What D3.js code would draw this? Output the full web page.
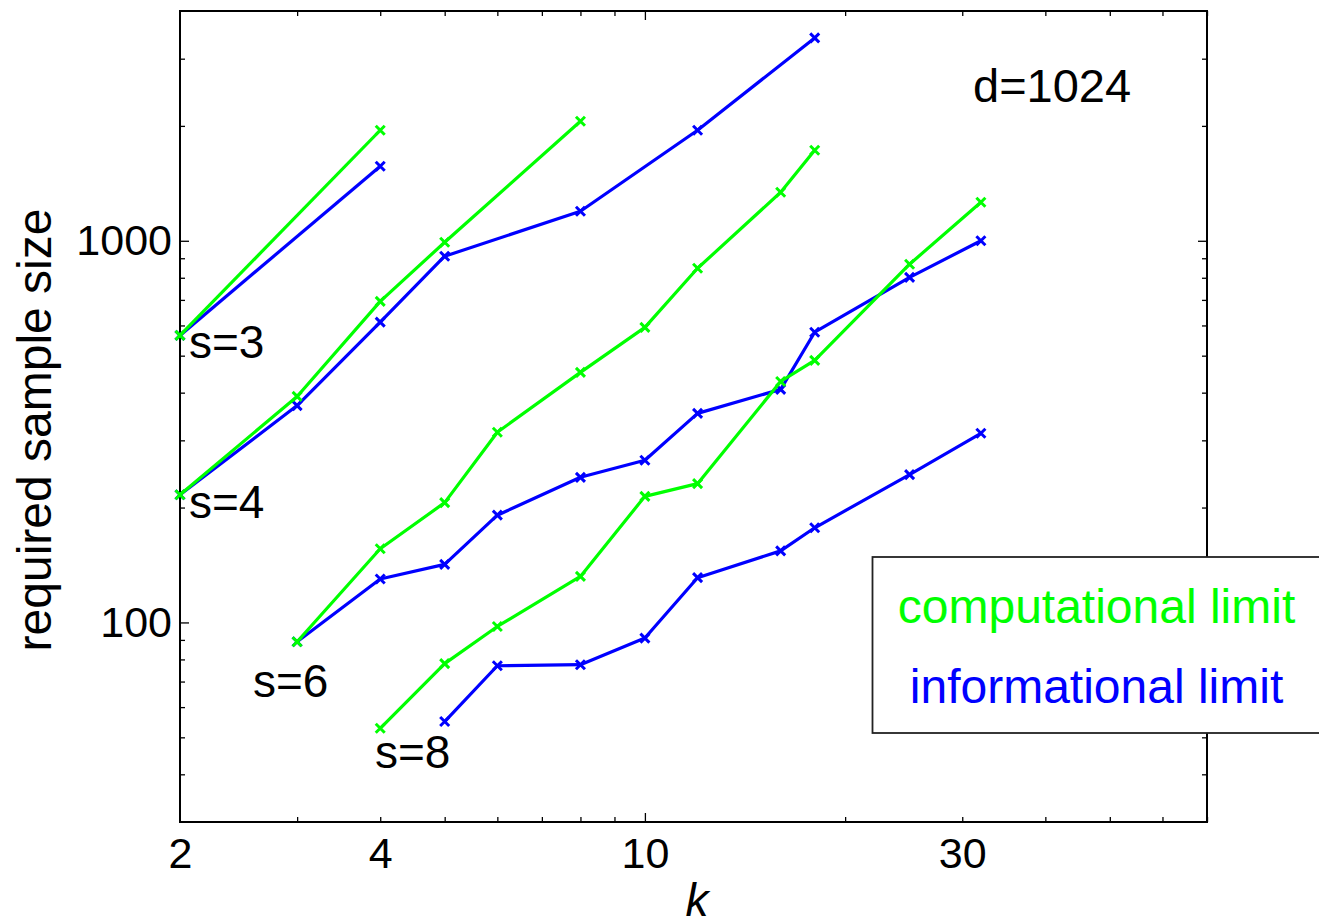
<!DOCTYPE html>
<html>
<head>
<meta charset="utf-8">
<script src="https://cdn.jsdelivr.net/npm/d3@7"></script>
<style>
  html, body { margin: 0; padding: 0; background: #fff; }
  svg { display: block; }
  text { font-family: "Liberation Sans", Arial, Helvetica, sans-serif; }
</style>
</head>
<body>
<svg id="chart" width="1319" height="924"></svg>
<script>
// ---------------- data ----------------
const s3K = [2, 4];
const s3Comp = [565, 1948];
const s3Info = [565, 1568];

const s4KComp = [2, 3, 4, 5, 8];
const s4Comp = [216, 391, 694, 991, 2057];
const s4KInfo = [2, 3, 4, 5, 8, 12, 18];
const s4Info = [216, 370, 612, 911, 1195, 1948, 3401];

const s6KComp = [3, 4, 5, 6, 8, 10, 12, 16, 18];
const s6Comp = [89, 156, 206, 315, 452, 593, 847, 1340, 1727];
const s6KInfo = [3, 4, 5, 6, 8, 10, 12, 16, 18, 25, 32];
const s6Info = [89, 130, 142, 191, 240, 266, 353, 408, 576, 802, 1000];

const s8KComp = [4, 5, 6, 8, 10, 12, 16, 18, 25, 32];
const s8Comp = [52.8, 78, 97.6, 132, 214, 231, 428, 486, 868, 1262];
const s8KInfo = [5, 6, 8, 10, 12, 16, 18, 25, 32];
const s8Info = [55, 77, 77.5, 91, 131, 154, 177, 244, 313];

const xTickLabels = [2, 4, 10, 30];
const yTickLabels = [100, 1000];
const xMajor = [10];
const yMajor = [100, 1000];
const xMinor = [3, 4, 5, 6, 7, 8, 9, 20, 30, 40, 50, 60, 70];
const yMinor = [40, 50, 60, 70, 80, 90, 200, 300, 400, 500, 600, 700, 800, 900, 2000, 3000];

const seriesLabels = ["s=3", "s=4", "s=6", "s=8"];
const legendLabels = ["computational limit", "informational limit"];
const annotation = "d=1024";
const xTitle = "k";
const yTitle = "required sample size";

// ---------------- layout ----------------
const L = 180, R = 1207, T = 11, B = 822;
const GREEN = "#00ff00", BLUE = "#0000ff";

const svg = d3.select("#chart");
const x = d3.scaleLog().domain([2, 70]).range([L, R]);
const y = d3.scaleLog().domain([30, 4000]).range([B, T]);

const zip = (ks, vs) => ks.map((k, i) => ({k, v: vs[i]}));
const infoSeries = [zip(s3K, s3Info), zip(s4KInfo, s4Info), zip(s6KInfo, s6Info), zip(s8KInfo, s8Info)];
const compSeries = [zip(s3K, s3Comp), zip(s4KComp, s4Comp), zip(s6KComp, s6Comp), zip(s8KComp, s8Comp)];

// ---------------- ticks (inward, all four sides) ----------------
function tickAxis(axisFn, scale, values, size, transform) {
  const g = svg.append("g").attr("transform", transform)
    .call(axisFn(scale).tickValues(values).tickSize(-size).tickFormat(""));
  g.select(".domain").remove();
  g.selectAll("line").attr("stroke", "#000").attr("stroke-width", 1.3);
  return g;
}
tickAxis(d3.axisBottom, x, xMinor, 5, `translate(0,${B})`);
tickAxis(d3.axisBottom, x, xMajor, 9, `translate(0,${B})`);
tickAxis(d3.axisTop, x, xMinor, 5, `translate(0,${T})`);
tickAxis(d3.axisTop, x, xMajor, 9, `translate(0,${T})`);
tickAxis(d3.axisLeft, y, yMinor, 5, `translate(${L},0)`);
tickAxis(d3.axisLeft, y, yMajor, 9, `translate(${L},0)`);
tickAxis(d3.axisRight, y, yMinor, 5, `translate(${R},0)`);
tickAxis(d3.axisRight, y, yMajor, 9, `translate(${R},0)`);

// tick labels
const gxl = svg.append("g").attr("transform", `translate(0,${B})`)
  .call(d3.axisBottom(x).tickValues(xTickLabels).tickSize(0).tickPadding(15).tickFormat(d3.format("d")));
gxl.select(".domain").remove();
gxl.selectAll("text").attr("font-size", 43).attr("fill", "#000")
  .style("font-family", '"Liberation Sans", Arial, sans-serif');

const gyl = svg.append("g").attr("transform", `translate(${L},0)`)
  .call(d3.axisLeft(y).tickValues(yTickLabels).tickSize(0).tickPadding(8).tickFormat(d3.format("d")));
gyl.select(".domain").remove();
gyl.selectAll("text").attr("font-size", 43).attr("fill", "#000")
  .style("font-family", '"Liberation Sans", Arial, sans-serif');

// frame
svg.append("rect").attr("x", L).attr("y", T).attr("width", R - L).attr("height", B - T)
  .attr("fill", "none").attr("stroke", "#000").attr("stroke-width", 2);

// ---------------- lines and markers ----------------
const line = d3.line().x(d => x(d.k)).y(d => y(d.v));
function drawSeries(data, color) {
  svg.append("path").datum(data).attr("d", line)
    .attr("fill", "none").attr("stroke", color).attr("stroke-width", 3.2)
    .attr("stroke-linejoin", "round");
  svg.append("g").selectAll("path").data(data).join("path")
    .attr("transform", d => `translate(${x(d.k)},${y(d.v)})`)
    .attr("d", "M-4.5,-4.5L4.5,4.5M-4.5,4.5L4.5,-4.5")
    .attr("stroke", color).attr("stroke-width", 3).attr("fill", "none");
}
infoSeries.forEach(s => drawSeries(s, BLUE));
compSeries.forEach(s => drawSeries(s, GREEN));

// ---------------- annotations ----------------
const labelPos = [[189, 358], [189, 518], [253, 697], [375, 768]];
seriesLabels.forEach((t, i) => {
  svg.append("text").attr("x", labelPos[i][0]).attr("y", labelPos[i][1])
    .attr("font-size", 46).attr("fill", "#000").text(t);
});
svg.append("text").attr("x", 973).attr("y", 102).attr("font-size", 47).attr("fill", "#000").text(annotation);

// axis titles
svg.append("text").attr("x", 697).attr("y", 916).attr("text-anchor", "middle")
  .attr("font-size", 46).attr("font-style", "italic").attr("fill", "#000").text(xTitle);
svg.append("text").attr("transform", "translate(51,430) rotate(-90)").attr("text-anchor", "middle")
  .attr("font-size", 48).attr("fill", "#000").text(yTitle);

// ---------------- legend ----------------
svg.append("rect").attr("x", 872.5).attr("y", 557).attr("width", 470).attr("height", 176)
  .attr("fill", "#fff").attr("stroke", "#222").attr("stroke-width", 1.8);
const legendColors = [GREEN, BLUE];
const legendY = [623, 703];
legendLabels.forEach((t, i) => {
  svg.append("text").attr("x", 1096.5).attr("y", legendY[i]).attr("text-anchor", "middle")
    .attr("font-size", 48).attr("fill", legendColors[i]).text(t);
});
</script>
</body>
</html>
